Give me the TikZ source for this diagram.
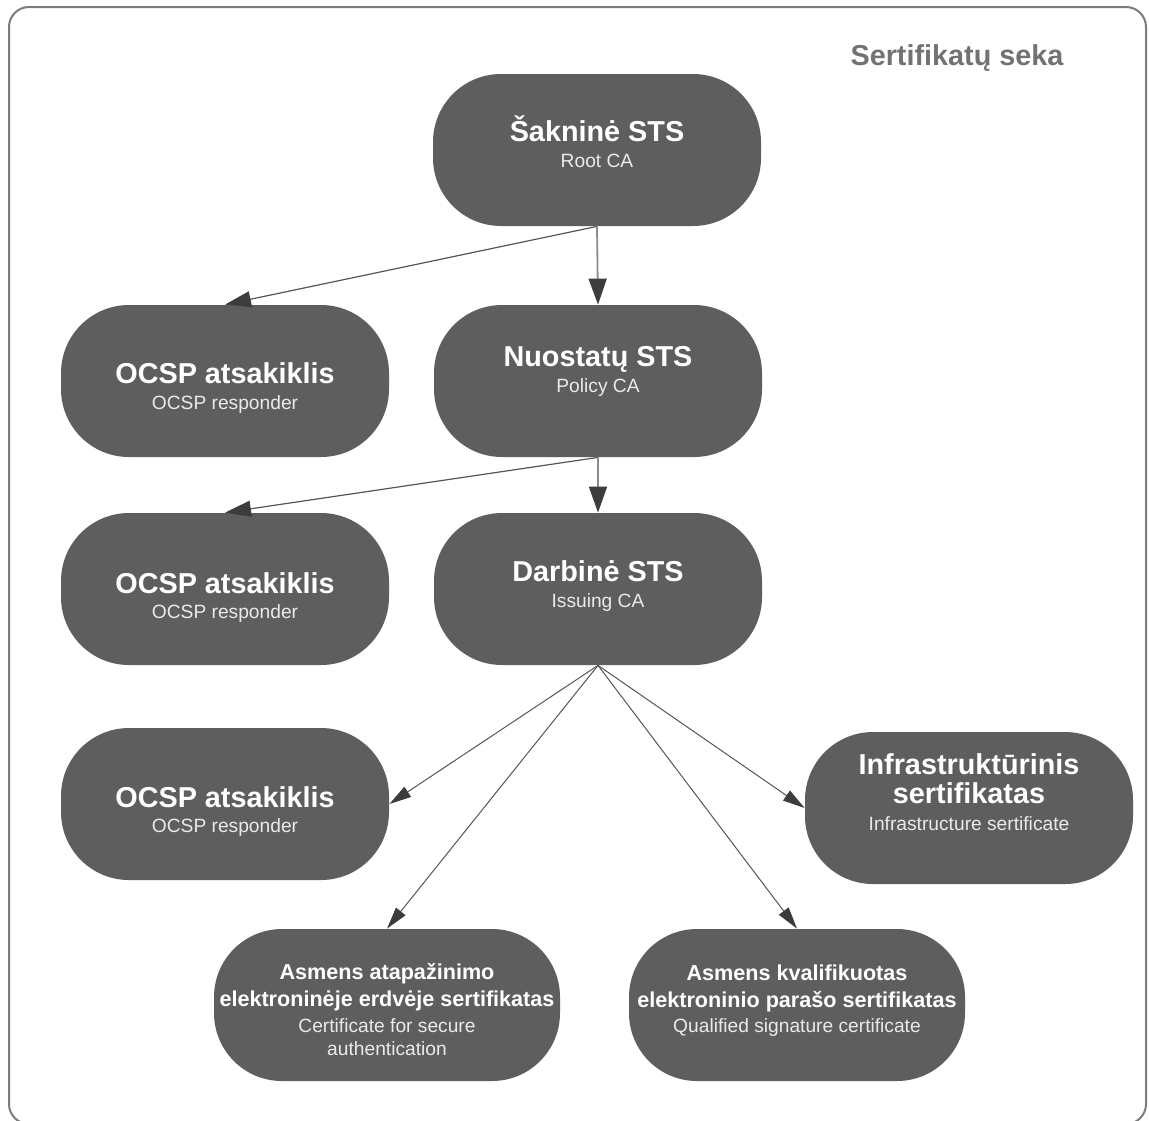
\documentclass[tikz,border=0pt]{standalone}
\usepackage{fontspec}
\setmainfont{Liberation Sans}
\usetikzlibrary{arrows.meta}
\definecolor{nodegray}{HTML}{5E5E5E}
\definecolor{framegray}{HTML}{7C7C7C}
\definecolor{titlegray}{HTML}{727272}
\definecolor{linegray}{HTML}{555555}
\definecolor{vlinegray}{HTML}{8C8C8C}
\definecolor{headgray}{HTML}{3C3C3C}
\definecolor{subwhite}{HTML}{EAEAEA}
\tikzset{
  box/.style={fill=nodegray, draw=none, rounded corners=34pt, inner sep=0pt},
  boldtxt/.style={anchor=base, text=white, inner sep=0pt, font=\fontsize{14.4}{16}\selectfont\bfseries},
  smallbold/.style={anchor=base, text=white, inner sep=0pt, font=\fontsize{10.8}{13}\selectfont\bfseries},
  subtxt/.style={anchor=base, text=subwhite, inner sep=0pt, font=\fontsize{9.6}{11}\selectfont},
  bigarrow/.style={draw=linegray, line width=0.6pt, -{Triangle[length=13pt,width=8pt,color=headgray]}},
  vertarrow/.style={draw=vlinegray, line width=0.9pt, -{Triangle[length=13pt,width=9pt,color=headgray]}},
  fanarrow/.style={draw=linegray, line width=0.5pt, -{Triangle[length=11pt,width=6pt,color=headgray]}}
}
\begin{document}
\begin{tikzpicture}[x=0.5pt,y=-0.5pt]
\useasboundingbox (0,0) rectangle (1149,1120);
% frame
\draw[framegray, line width=1pt, rounded corners=10pt] (9,7) rectangle (1146,1124);
\node[anchor=base, text=titlegray, inner sep=0pt, font=\fontsize{14.4}{16}\selectfont\bfseries] (title) at (957,65) {Sertifikatų seka};

% shapes
\node[box, minimum width=164pt, minimum height=76pt] (root) at (597,150) {};
\node[box, minimum width=164pt, minimum height=76pt] (nuo) at (598,381) {};
\node[box, minimum width=164pt, minimum height=76pt] (ocsp1) at (225,381) {};
\node[box, minimum width=164pt, minimum height=76pt] (darb) at (598,589) {};
\node[box, minimum width=164pt, minimum height=76pt] (ocsp2) at (225,589) {};
\node[box, minimum width=164pt, minimum height=76pt] (ocsp3) at (225,804) {};
\node[box, minimum width=164pt, minimum height=76pt] (infra) at (969,808) {};
\node[box, minimum width=173pt, minimum height=76pt] (asm1) at (387,1005) {};
\node[box, minimum width=168pt, minimum height=76pt] (asm2) at (797,1005) {};

% texts
\node[boldtxt] (rootA) at (597,141) {Šakninė STS};
\node[subtxt] (rootB) at (597,167) {Root CA};
\node[boldtxt] (nuoA) at (598,366) {Nuostatų STS};
\node[subtxt] (nuoB) at (598,392) {Policy CA};
\node[boldtxt] (ocsp1A) at (225,383) {OCSP atsakiklis};
\node[subtxt] (ocsp1B) at (225,409) {OCSP responder};
\node[boldtxt] (darbA) at (598,581) {Darbinė STS};
\node[subtxt] (darbB) at (598,607) {Issuing CA};
\node[boldtxt] (ocsp2A) at (225,593) {OCSP atsakiklis};
\node[subtxt] (ocsp2B) at (225,618) {OCSP responder};
\node[boldtxt] (ocsp3A) at (225,807) {OCSP atsakiklis};
\node[subtxt] (ocsp3B) at (225,832) {OCSP responder};
\node[boldtxt] (infraA) at (969,774) {Infrastruktūrinis};
\node[boldtxt] (infraB) at (969,803) {sertifikatas};
\node[subtxt] (infraC) at (969,830) {Infrastructure sertificate};
\node[smallbold] (asm1A) at (387,979) {Asmens atapažinimo};
\node[smallbold] (asm1B) at (387,1006) {elektroninėje erdvėje sertifikatas};
\node[subtxt] (asm1C) at (387,1032) {Certificate for secure};
\node[subtxt] (asm1D) at (387,1055) {authentication};
\node[smallbold] (asm2A) at (797,980) {Asmens kvalifikuotas};
\node[smallbold] (asm2B) at (797,1007) {elektroninio parašo sertifikatas};
\node[subtxt] (asm2C) at (797,1032) {Qualified signature certificate};

% connectors
\draw[bigarrow] (root.south) -- (ocsp1.north);
\draw[vertarrow] (root.south) -- (nuo.north);
\draw[bigarrow] (nuo.south) -- (ocsp2.north);
\draw[vertarrow] (nuo.south) -- (darb.north);
\draw[fanarrow] (darb.south) -- (ocsp3.east);
\draw[fanarrow] (darb.south) -- (infra.west);
\draw[fanarrow] (darb.south) -- (asm1.north);
\draw[fanarrow] (darb.south) -- (asm2.north);
\end{tikzpicture}
\end{document}
